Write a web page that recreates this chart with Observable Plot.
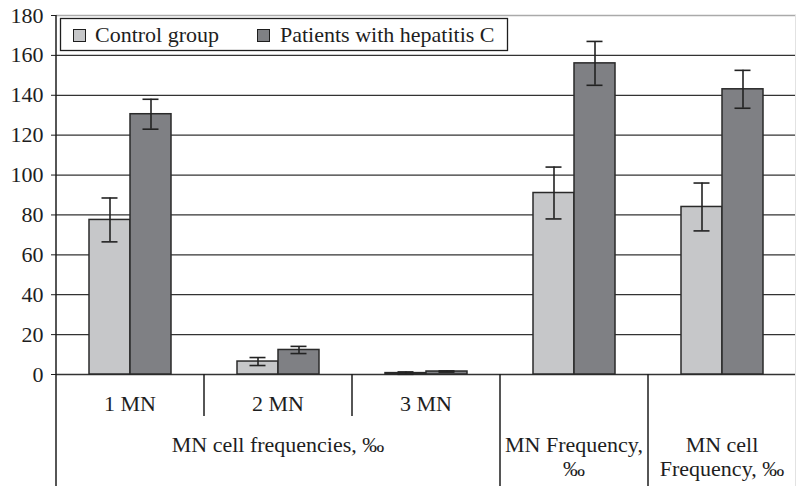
<!DOCTYPE html>
<html>
<head>
<meta charset="utf-8">
<script src="https://cdn.jsdelivr.net/npm/d3@7"></script>
<script src="https://cdn.jsdelivr.net/npm/@observablehq/plot@0.6"></script>
<style>
  html, body { margin: 0; padding: 0; background: #fff; }
  #chart { width: 796px; height: 486px; overflow: hidden; }
</style>
</head>
<body>
<div id="chart"></div>
<script>
// ---- data ----
const categories = ["1 MN", "2 MN", "3 MN", "MN Frequency", "MN cell Frequency"];
const groups = ["Control group", "Patients with hepatitis C"];
const controlValues = [77.5, 6.5, 0.7, 91, 84];
const controlErrors = [11, 2, 0.6, 13, 12];
const patientValues = [130.5, 12.3, 1.5, 156, 143];
const patientErrors = [7.5, 1.8, 0.3, 11, 9.5];
const yTicks = [0, 20, 40, 60, 80, 100, 120, 140, 160, 180];
const topLabels = ["1 MN", "2 MN", "3 MN", "", ""];
const groupLabel = "MN cell frequencies, ‰";
const bottomLabels = [null, null, null, ["MN Frequency,", "‰"], ["MN cell", "Frequency, ‰"]];

const table = [];
categories.forEach((c, i) => {
  table.push({cat: c, group: groups[0], value: controlValues[i], err: controlErrors[i]});
  table.push({cat: c, group: groups[1], value: patientValues[i], err: patientErrors[i]});
});

const FONT = "'Liberation Serif', 'Times New Roman', Times, 'DejaVu Serif', serif";
const FS = 22;
const INK = "#1e1e1e";

const chart = Plot.plot({
  width: 796,
  height: 486,
  marginLeft: 55,
  marginRight: 0,
  marginTop: 15,
  marginBottom: 112,
  style: {fontFamily: FONT, fontSize: FS + "px", background: "#fff", color: INK, overflow: "visible"},
  fx: {domain: categories, padding: 0, axis: null, label: null},
  x: {domain: groups, paddingInner: 0, paddingOuter: 0.764, axis: null, label: null},
  y: {domain: [0, 180], axis: null},
  color: {domain: groups, range: ["#c6c7c9", "#7f8084"]},
  marks: [
    Plot.ruleY(yTicks.filter(d => d < 180), {stroke: "#333", strokeWidth: 1.3}),
    Plot.ruleY([180], {stroke: "#aaa", strokeWidth: 1.6}),
    Plot.barY(table, {fx: "cat", x: "group", y: "value", fill: "group", stroke: "#2a2a2a", strokeWidth: 1.5}),
    Plot.ruleX(table, {fx: "cat", x: "group", y1: d => Math.max(0, d.value - d.err), y2: d => d.value + d.err, stroke: "#222", strokeWidth: 1.6}),
    Plot.tickY(table, {fx: "cat", x: "group", y: d => Math.max(0, d.value - d.err), insetLeft: 12.5, insetRight: 12.5, stroke: "#222", strokeWidth: 1.6}),
    Plot.tickY(table, {fx: "cat", x: "group", y: d => d.value + d.err, insetLeft: 12.5, insetRight: 12.5, stroke: "#222", strokeWidth: 1.6}),
    Plot.axisY({ticks: yTicks, tickSize: 5, tickPadding: 8, fontSize: FS, fontFamily: FONT, fill: INK, stroke: INK, label: null, tickFormat: d => String(d)})
  ]
});

document.getElementById("chart").appendChild(chart);

// ---- category "table" below the axis, legend box ----
const svg = d3.select(chart);
const fx = chart.scale("fx");
const yS = chart.scale("y");
const y0 = yS.apply(0);
const yTop = yS.apply(180);
const bw = fx.bandwidth;
const lefts = categories.map(c => fx.apply(c));
const rightEdge = lefts[lefts.length - 1] + bw;
const H = 486;

const g = svg.append("g");
// y axis line
g.append("line").attr("x1", lefts[0]).attr("x2", lefts[0]).attr("y1", yTop).attr("y2", H)
  .attr("stroke", INK).attr("stroke-width", 1.5);
// separators
categories.forEach((c, i) => {
  if (i === 0) return;
  const x = lefts[i];
  const long = i >= 3;
  g.append("line").attr("x1", x).attr("x2", x).attr("y1", y0).attr("y2", long ? H : y0 + 42)
    .attr("stroke", INK).attr("stroke-width", 1.5);
});
g.append("line").attr("x1", rightEdge - 0.5).attr("x2", rightEdge - 0.5).attr("y1", yTop).attr("y2", H)
  .attr("stroke", "#e2e2e2").attr("stroke-width", 1);

const txt = (sel, x, y, s, anchor = "middle") => sel.append("text").attr("x", x).attr("y", y).attr("text-anchor", anchor)
  .attr("font-family", FONT).attr("font-size", FS).attr("fill", INK).text(s);

topLabels.forEach((s, i) => { if (s) txt(g, lefts[i] + bw / 2, y0 + 37, s); });
txt(g, (lefts[0] + lefts[3]) / 2, y0 + 78, groupLabel);
bottomLabels.forEach((lines, i) => {
  if (!lines) return;
  lines.forEach((s, j) => txt(g, lefts[i] + bw / 2, y0 + 78 + j * 24, s));
});

// legend
const lg = svg.append("g");
lg.append("rect").attr("x", 60.5).attr("y", 18.5).attr("width", 447).attr("height", 32)
  .attr("fill", "#fff").attr("stroke", INK).attr("stroke-width", 1.3);
const items = [{x: 73, tx: 95}, {x: 257, tx: 280}];
groups.forEach((name, i) => {
  lg.append("rect").attr("x", items[i].x + 0.5).attr("y", 29.5).attr("width", 12).attr("height", 12)
    .attr("fill", chart.scale("color").apply(name)).attr("stroke", INK).attr("stroke-width", 1);
  txt(lg, items[i].tx, 42, name, "start");
});
</script>
</body>
</html>
